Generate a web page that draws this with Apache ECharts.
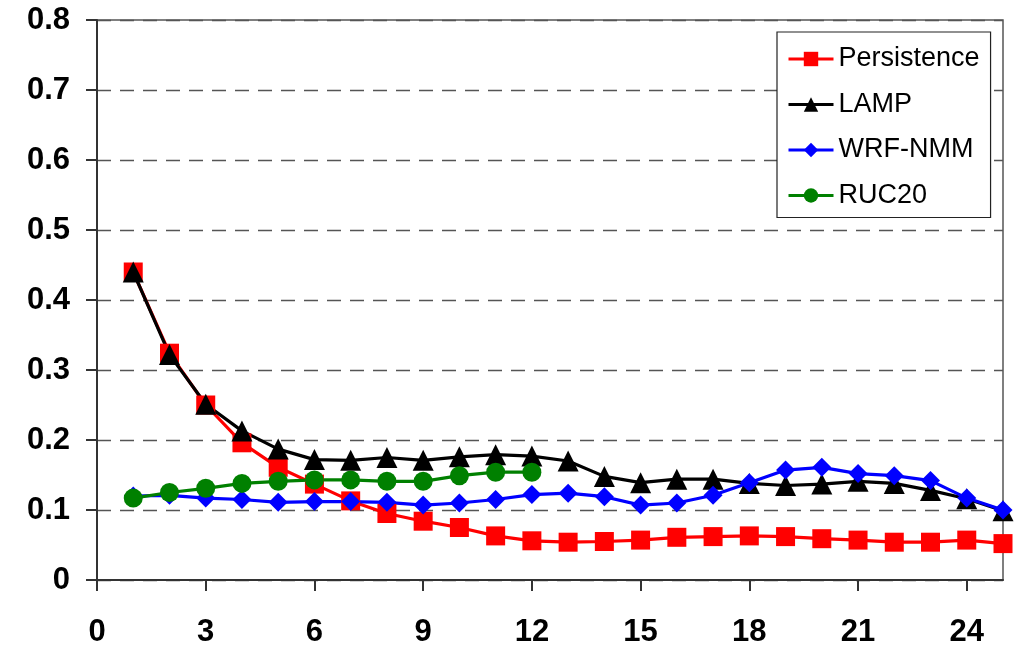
<!DOCTYPE html>
<html>
<head>
<meta charset="utf-8">
<script src="https://cdn.jsdelivr.net/npm/echarts@6/dist/echarts.min.js"></script>
<style>
  html, body { margin: 0; padding: 0; background: #fff; }
  #chart { width: 1020px; height: 648px; }
</style>
</head>
<body>
<div id="chart"></div>
<script>
// Forecast hour
const hours = [1,2,3,4,5,6,7,8,9,10,11,12,13,14,15,16,17,18,19,20,21,22,23,24,25];
const xTicks = [0,3,6,9,12,15,18,21,24];

const persistence = [0.440,0.324,0.250,0.196,0.161,0.137,0.113,0.095,0.084,0.075,0.063,0.056,0.054,
                     0.055,0.057,0.061,0.062,0.063,0.062,0.059,0.057,0.054,0.054,0.057,0.052];
const lamp        = [0.440,0.322,0.251,0.213,0.187,0.172,0.171,0.175,0.171,0.176,0.179,0.177,0.170,
                     0.148,0.139,0.144,0.144,0.138,0.135,0.137,0.141,0.138,0.128,0.116,0.099];
const wrfNmm      = [0.120,0.121,0.117,0.115,0.111,0.112,0.112,0.111,0.107,0.110,0.115,0.122,0.124,
                     0.119,0.107,0.110,0.121,0.139,0.157,0.161,0.152,0.149,0.142,0.117,0.100];
const ruc20       = [0.117,0.125,0.131,0.138,0.141,0.143,0.143,0.141,0.141,0.149,0.154,0.154];

const FONT = '"Liberation Sans", Arial, sans-serif';

function pairs(vals) {
  return vals.map((v, i) => [hours[i], v]);
}

function lineSeries(name, vals, color, symbol, size) {
  return {
    name: name,
    type: 'line',
    data: pairs(vals),
    symbol: symbol,
    symbolSize: size,
    showAllSymbol: true,
    itemStyle: { color: color },
    lineStyle: { color: color, width: 3.2 },
    emphasis: { disabled: true },
    animation: false
  };
}

const chart = echarts.init(document.getElementById('chart'), null, { renderer: 'canvas' });
chart.setOption({
  backgroundColor: '#fff',
  animation: false,
  grid: {
    left: 97, right: 17, top: 20, bottom: 68,
    show: true, borderColor: '#555', borderWidth: 1.5
  },
  legend: {
    orient: 'vertical',
    left: 777, top: 32,
    padding: [12, 11, 7, 10],
    backgroundColor: '#fff',
    borderColor: '#222', borderWidth: 1.2,
    itemWidth: 45, itemHeight: 18,
    itemGap: 15.5,
    lineStyle: { width: 3 },
    textStyle: { fontFamily: FONT, fontSize: 27, color: '#000', lineHeight: 30 },
    data: ['Persistence', 'LAMP', 'WRF-NMM', 'RUC20']
  },
  xAxis: {
    type: 'value',
    min: 0, max: 25, interval: 3,
    axisLine: { show: true, lineStyle: { color: '#333', width: 2 } },
    axisTick: { show: true, inside: false, length: 11, customValues: xTicks, lineStyle: { color: '#333', width: 2 } },
    axisLabel: {
      customValues: xTicks,
      margin: 37,
      fontFamily: FONT, fontSize: 31, fontWeight: 'bold', color: '#000'
    },
    splitLine: { show: false }
  },
  yAxis: {
    type: 'value',
    min: 0, max: 0.8, interval: 0.1,
    axisLine: { show: true, lineStyle: { color: '#333', width: 2 } },
    axisTick: { show: true, inside: false, length: 11, lineStyle: { color: '#333', width: 2 } },
    axisLabel: {
      margin: 27,
      fontFamily: FONT, fontSize: 31, fontWeight: 'bold', color: '#000',
      formatter: v => String(Math.round(v * 10) / 10)
    },
    splitLine: { show: true, lineStyle: { color: '#555', width: 1.3, type: [14, 9] } }
  },
  series: [
    lineSeries('Persistence', persistence, '#ff0000', 'rect', 19),
    lineSeries('LAMP', lamp, '#000000', 'triangle', 21),
    lineSeries('WRF-NMM', wrfNmm, '#0000ff', 'diamond', 19),
    lineSeries('RUC20', ruc20, '#008000', 'circle', 19)
  ]
});
</script>
</body>
</html>
